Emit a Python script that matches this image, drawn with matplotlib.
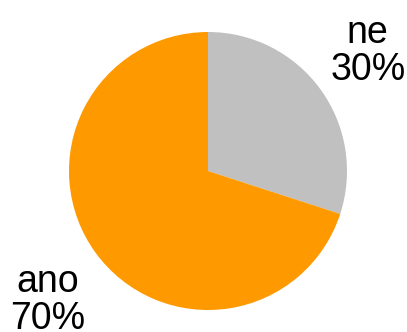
import matplotlib.pyplot as plt

labels = ['ne', 'ano']
values = [30, 70]
colors = ['#C0C0C0', '#FF9900']

plt.rcParams['font.family'] = ['Liberation Sans', 'DejaVu Sans']

fig = plt.figure(figsize=(4.07, 3.32), dpi=100)
ax = fig.add_axes([0, 0, 1, 1])

wedges, texts = ax.pie(values, labels=[f'{l}\n{v}%' for l, v in zip(labels, values)],
                       colors=colors, startangle=90, counterclock=False,
                       radius=1.0, textprops={'fontsize': 27})

# move the labels outside the pie
label_pos = [(1.15, 0.86), (-1.15, -0.93)]
for t, p in zip(texts, label_pos):
    t.set_position(p)
    t.set_ha('center')
    t.set_va('center')
    t.set_linespacing(1.05)

ax.set_aspect('auto')
ax.set_xlim(-208 / 139, 199 / 139)
ax.set_ylim(-161 / 139, 171 / 139)
ax.axis('off')

fig.savefig('out.png', dpi=100)
